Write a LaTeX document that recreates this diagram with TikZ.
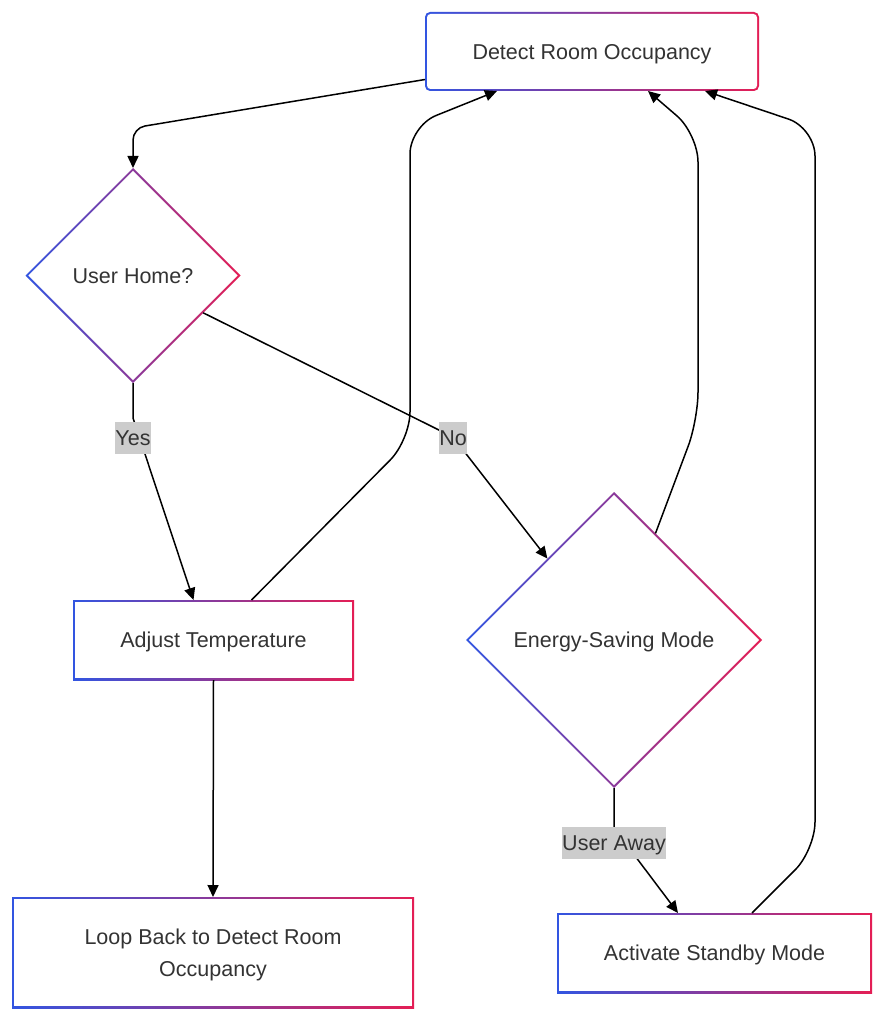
\documentclass[tikz,border=0pt]{standalone}
\usepackage{fontspec}
\setmainfont{Liberation Sans}
\usetikzlibrary{shapes.geometric,arrows.meta,calc}
\definecolor{cblue}{RGB}{50,85,225}
\definecolor{cred}{RGB}{228,30,85}
\definecolor{ctext}{RGB}{51,51,51}
\tikzset{
  basenode/.style={inner sep=0pt, outer sep=0pt, left color=cblue, right color=cred, text=ctext,
    font=\fontsize{21.5}{32}\selectfont, align=center, text depth=0pt},
  gbox/.style={basenode, rectangle, minimum width=#1,
    path picture={\fill[white] ([xshift=2pt,yshift=-2pt]path picture bounding box.north west) rectangle ([xshift=-2pt,yshift=2pt]path picture bounding box.south east);}},
  rbox/.style={basenode, rectangle, rounded corners=5pt, minimum width=#1,
    path picture={\fill[white, rounded corners=3.5pt] ([xshift=2pt,yshift=-2pt]path picture bounding box.north west) rectangle ([xshift=-2pt,yshift=2pt]path picture bounding box.south east);}},
  gdia/.style={basenode, diamond, aspect=1, minimum width=#1, minimum height=#1,
    path picture={\fill[white] ([yshift=-2.8pt]path picture bounding box.north) -- ([xshift=-2.8pt]path picture bounding box.east) -- ([yshift=2.8pt]path picture bounding box.south) -- ([xshift=2.8pt]path picture bounding box.west) -- cycle;}},
  arr/.style={draw=black, line width=1.5pt, -{Triangle[length=12pt,width=11pt]}},
  elabel/.style={fill=gray!40, text=ctext, inner xsep=0.5pt, inner ysep=5.5pt, text height=18pt, text depth=3pt, font=\fontsize{21.5}{26}\selectfont}
}
\begin{document}
\begin{tikzpicture}[x=1pt,y=-1pt]
\useasboundingbox[fill=white] (0,0) rectangle (887,1024);

\node[rbox=334pt, minimum height=79pt] (detect) at (592,51.5) {Detect Room Occupancy};
\node[gdia=215pt] (uh) at (133,275.5) {User Home?};
\node[gbox=281pt, minimum height=80pt] (adj) at (213.5,640) {Adjust Temperature};
\node[gdia=296pt] (es) at (614,640) {Energy-Saving Mode};
\node[gbox=402pt, minimum height=111pt] (loop) at (213,952.5) {Loop Back to Detect Room\\Occupancy};
\node[gbox=315pt, minimum height=80pt] (act) at (714.5,953) {Activate Standby Mode};

% edges
\draw[arr, rounded corners=12pt] ([yshift=-28pt]detect.west) -- (133,128) -- (uh.north);
\draw[arr] (uh.south) -- (133,418) -- ([xshift=-20pt]adj.north);
\draw[arr] (uh.-28) -- (453,437) -- ($(es.north)!0.45!(es.west)$);
\draw[arr, rounded corners=28pt] ([xshift=38pt]adj.north) -- (410,440) -- (410,126) -- ([xshift=-95pt]detect.south);
\draw[arr, rounded corners=28pt] ($(es.north)!0.28!(es.east)$) -- (698,420) -- (698,134) -- ([xshift=56pt]detect.south);
\draw[arr] (es.south) -- (614,828) -- ([xshift=-36.5pt]act.north);
\draw[arr, rounded corners=28pt] ([xshift=37.5pt]act.north) -- (815,850) -- (815,128) -- ([xshift=113pt]detect.south);
\draw[arr] (adj.south) -- (loop.north);

% edge labels
\node[elabel] (lyes) at (133,438) {Yes};
\node[elabel] (lno) at (453,438) {No};
\node[elabel] (laway) at (614,843) {User Away};
\end{tikzpicture}
\end{document}
